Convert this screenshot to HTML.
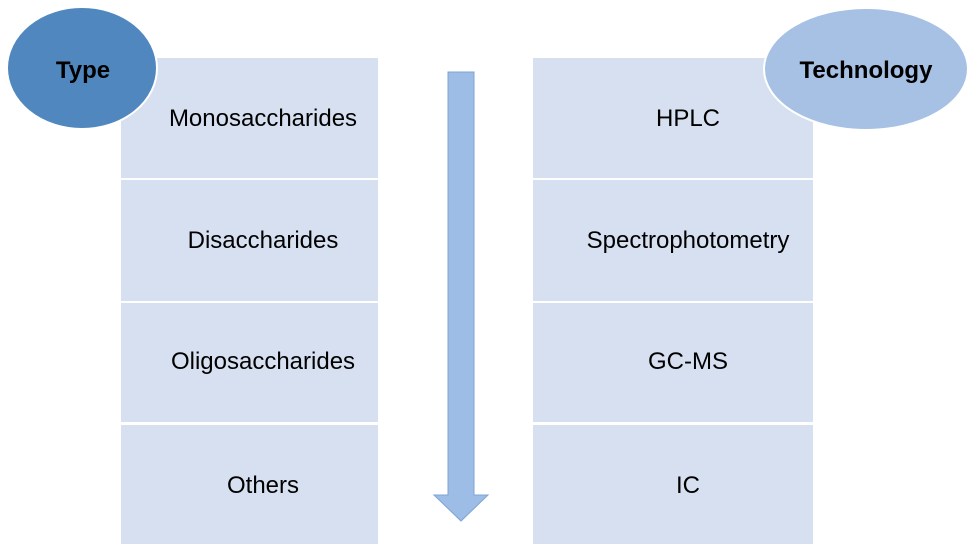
<!DOCTYPE html>
<html><head><meta charset="utf-8"><style>
html,body{margin:0;padding:0;background:#fff;width:975px;height:559px;overflow:hidden}
svg{display:block}
text{font-family:"Liberation Sans",Arial,sans-serif;font-size:24px;fill:#000}
</style></head><body>
<svg width="975" height="559" viewBox="0 0 975 559">
<g fill="#d6e0f0">
<rect x="121" y="58" width="257" height="120"/>
<rect x="121" y="180" width="257" height="121"/>
<rect x="121" y="303" width="257" height="119"/>
<rect x="121" y="425" width="257" height="119"/>
<rect x="533" y="58" width="280" height="120"/>
<rect x="533" y="180" width="280" height="121"/>
<rect x="533" y="303" width="280" height="119"/>
<rect x="533" y="425" width="280" height="119"/>
</g>
<polygon points="448,72 474,72 474,495 488,495 461,521 434,495 448,495" fill="#9dbde6" stroke="#7da4d4" stroke-width="1"/>
<ellipse cx="82" cy="68" rx="75" ry="61" fill="#4f87be" stroke="#fff" stroke-width="2"/>
<ellipse cx="866" cy="69" rx="102" ry="61" fill="#a6c1e4" stroke="#fff" stroke-width="2"/>
<text x="83" y="78" text-anchor="middle" font-weight="bold">Type</text>
<text x="866" y="78" text-anchor="middle" font-weight="bold">Technology</text>
<g text-anchor="middle">
<text x="263" y="126">Monosaccharides</text>
<text x="263" y="248">Disaccharides</text>
<text x="263" y="369">Oligosaccharides</text>
<text x="263" y="493">Others</text>
<text x="688" y="126">HPLC</text>
<text x="688" y="248">Spectrophotometry</text>
<text x="688" y="369">GC-MS</text>
<text x="688" y="493">IC</text>
</g>
</svg>
</body></html>
